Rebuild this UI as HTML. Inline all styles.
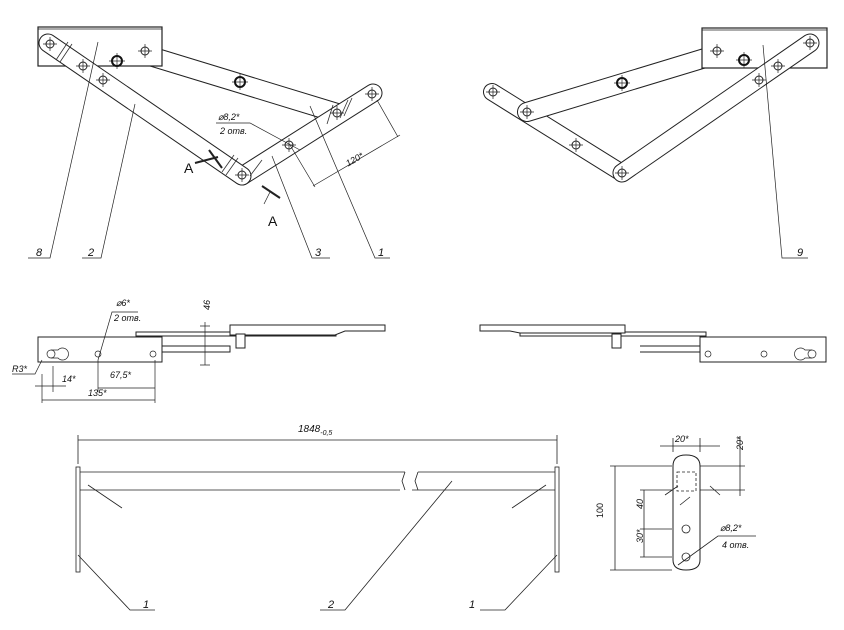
<!DOCTYPE html>
<html><head><meta charset="utf-8"><style>
html,body{margin:0;padding:0;background:#fff}
svg{display:block}
text{font-family:"Liberation Sans",sans-serif;font-style:italic;fill:#111}
</style></head><body>
<svg width="844" height="630" viewBox="0 0 844 630" xmlns="http://www.w3.org/2000/svg">
<defs>
<g id="h"><circle r="4" fill="none" stroke="#222" stroke-width="1"/><path d="M-7 0H7M0 -7V7" stroke="#222" stroke-width="0.7"/></g>
<g id="hb"><circle r="5" fill="none" stroke="#111" stroke-width="2"/><path d="M-8 0H8M0 -8V8" stroke="#222" stroke-width="0.7"/></g>
</defs>
<g stroke-linecap="round">
<!-- LEFT TOP VIEW -->
<line x1="150" y1="56" x2="337" y2="113" stroke="#222" stroke-width="20"/>
<line x1="150" y1="56" x2="337" y2="113" stroke="#fff" stroke-width="18"/>
<rect x="38" y="27" width="124" height="39" fill="#fff" stroke="#222" stroke-width="1.2"/>
<line x1="38" y1="29" x2="162" y2="29" stroke="#222" stroke-width="0.8"/>
<line x1="242" y1="176" x2="373" y2="93" stroke="#222" stroke-width="19"/>
<line x1="242" y1="176" x2="373" y2="93" stroke="#fff" stroke-width="17"/>
<line x1="48" y1="43" x2="242" y2="176" stroke="#222" stroke-width="19"/>
<line x1="48" y1="43" x2="242" y2="176" stroke="#fff" stroke-width="17"/>
</g>
<g stroke="#333" stroke-width="0.8">
<line x1="56" y1="60" x2="68" y2="42"/><line x1="60" y1="62" x2="72" y2="44"/>
<line x1="222" y1="172" x2="234" y2="155"/><line x1="226" y1="175" x2="238" y2="158"/>
<line x1="250" y1="176" x2="262" y2="160"/><line x1="327" y1="124" x2="333" y2="105"/>
<line x1="340" y1="118" x2="348" y2="100"/><line x1="344" y1="116" x2="352" y2="98"/>
</g>
<use href="#h" x="50" y="44"/><use href="#h" x="83" y="66"/><use href="#h" x="103" y="80"/>
<use href="#hb" x="117" y="61"/><use href="#h" x="145" y="51"/>
<use href="#hb" x="240" y="82"/><use href="#h" x="242" y="175"/><use href="#h" x="337" y="113"/>
<use href="#h" x="289" y="145"/><use href="#h" x="372" y="94"/>
<!-- leaders left -->
<g stroke="#222" stroke-width="0.7" fill="none">
<path d="M98 42L50 258H28"/><path d="M135 104L101 258H82"/>
<path d="M272 156L312 258H330"/><path d="M310 106L375 258H390"/>
<path d="M216 123H250L300 150"/>
<path d="M290 145L315 187M377 100L398 137M313 186L400 135"/>
<path d="M195 163L218 157M209 150L222 168" stroke-width="2"/>
<path d="M262 186L280 198" stroke-width="2"/><path d="M270 192L264 204"/>
</g>
<g font-size="11">
<text x="218" y="120" font-size="9">⌀8,2*</text><text x="220" y="134" font-size="9">2 отв.</text>
<text x="346" y="165" font-size="9" transform="rotate(-30 350 162)">120*</text>
<text x="184" y="173" font-size="14" style="font-style:normal">A</text>
<text x="268" y="226" font-size="14" style="font-style:normal">A</text>
<text x="36" y="256">8</text><text x="88" y="256">2</text><text x="315" y="256">3</text><text x="378" y="256">1</text>
<text x="797" y="256">9</text>
</g>
<!-- RIGHT TOP VIEW -->
<g stroke-linecap="round">
<line x1="492" y1="92" x2="622" y2="173" stroke="#222" stroke-width="18"/>
<line x1="492" y1="92" x2="622" y2="173" stroke="#fff" stroke-width="16"/>
<line x1="715" y1="55" x2="527" y2="112" stroke="#222" stroke-width="20"/>
<line x1="715" y1="55" x2="527" y2="112" stroke="#fff" stroke-width="18"/>
<rect x="702" y="28" width="125" height="40" fill="#fff" stroke="#222" stroke-width="1.2"/>
<line x1="702" y1="30" x2="827" y2="30" stroke="#222" stroke-width="0.8"/>
<line x1="810" y1="43" x2="622" y2="173" stroke="#222" stroke-width="19"/>
<line x1="810" y1="43" x2="622" y2="173" stroke="#fff" stroke-width="17"/>
</g>
<use href="#h" x="493" y="92"/><use href="#h" x="527" y="112"/><use href="#h" x="576" y="145"/>
<use href="#h" x="622" y="173"/><use href="#hb" x="622" y="83"/><use href="#h" x="717" y="51"/>
<use href="#hb" x="744" y="60"/><use href="#h" x="759" y="80"/><use href="#h" x="778" y="66"/><use href="#h" x="810" y="43"/>
<path d="M763 45L782 258H808" stroke="#222" stroke-width="0.7" fill="none"/>
<!-- MIDDLE LEFT -->
<g stroke="#222" stroke-width="1" fill="#fff">
<rect x="136" y="332" width="200" height="4"/>
<path d="M230 325H385V331H345L335 335H230Z"/>
<rect x="38" y="337" width="124" height="25"/>
<path d="M162 346H230V352H162" fill="none"/>
<rect x="236" y="334" width="9" height="14"/>
</g>
<g stroke="#222" stroke-width="0.7" fill="none">
<circle cx="51" cy="354" r="4"/><path d="M51 350H58A6 6 0 1 1 58 358H51"/>
<circle cx="98" cy="354" r="3"/><circle cx="153" cy="354" r="3"/>
<path d="M42 374V403M53 366V392M98 360V392M155 360V403M35 386H66M98 388H155M42 400H155M205 322V365M200 365H210M200 326H210M12 374H35L42 360M98 360L112 312H138"/>
</g>
<g font-size="9"><text x="116" y="306">⌀6*</text><text x="114" y="321">2 отв.</text><text x="12" y="372">R3*</text>
<text x="62" y="382">14*</text><text x="110" y="378">67,5*</text><text x="88" y="396">135*</text>
<text x="204" y="316" transform="rotate(-90 204 310)">46</text></g>
<!-- MIDDLE RIGHT -->
<g stroke="#222" stroke-width="1" fill="#fff">
<rect x="520" y="332" width="186" height="4"/>
<path d="M480 325H625V333H520L510 331H480Z"/>
<rect x="700" y="337" width="126" height="25"/>
<path d="M640 346H700V352H640" fill="none"/>
<rect x="612" y="334" width="9" height="14"/>
</g>
<g stroke="#222" stroke-width="0.7" fill="none">
<circle cx="812" cy="354" r="4"/><path d="M812 350H805A6 6 0 1 0 805 358H812"/>
<circle cx="764" cy="354" r="3"/><circle cx="708" cy="354" r="3"/>
</g>
<!-- BOTTOM -->
<g stroke="#222" stroke-width="0.8" fill="none">
<rect x="76" y="467" width="4" height="105" fill="#fff"/>
<rect x="555" y="467" width="4" height="105" fill="#fff"/>
<path d="M80 472H405M80 490H400M418 472H555M412 490H555"/>
<path d="M405 472L402 481L405 490M418 472L415 481L418 490" />
<path d="M78 464V435M557 464V435M78 440H557M88 485L122 508M546 485L512 508M78 555L130 610H155M557 555L505 610H480M452 481L345 610H320"/>
</g>
<text x="298" y="432" font-size="10">1848<tspan font-size="7" dy="3">-0,5</tspan></text>
<g font-size="11"><text x="143" y="608">1</text><text x="328" y="608">2</text><text x="469" y="608">1</text></g>
<!-- DETAIL -->
<g stroke="#222" stroke-width="0.8" fill="none">
<path d="M673 466Q673 455 686 455Q700 455 700 466V560Q700 570 686 570Q673 570 673 560Z" stroke-width="1"/>
<rect x="677" y="472" width="19" height="19" stroke-dasharray="3 2"/>
<circle cx="686" cy="529" r="4"/><circle cx="686" cy="557" r="4"/>
<path d="M610 466H672M610 570H672M615 466V570M640 490H672M640 529H672M640 557H672M644 490V557M673 452V438M700 452V438M660 446H720M700 466H745M700 490H745M740 436V496M665 495L678 486M710 486L720 495M680 505L690 497M678 565L718 536H756"/>
</g>
<g font-size="9"><text x="675" y="442">20*</text>
<text x="738" y="455" transform="rotate(-90 738 450)">20*</text>
<text x="601" y="520" transform="rotate(-90 601 518)" style="font-style:normal">100</text>
<text x="638" y="514" transform="rotate(-90 638 509)">40</text>
<text x="638" y="548" transform="rotate(-90 638 543)">30*</text>
<text x="720" y="531">⌀8,2*</text><text x="722" y="548">4 отв.</text></g>
</svg>
</body></html>
